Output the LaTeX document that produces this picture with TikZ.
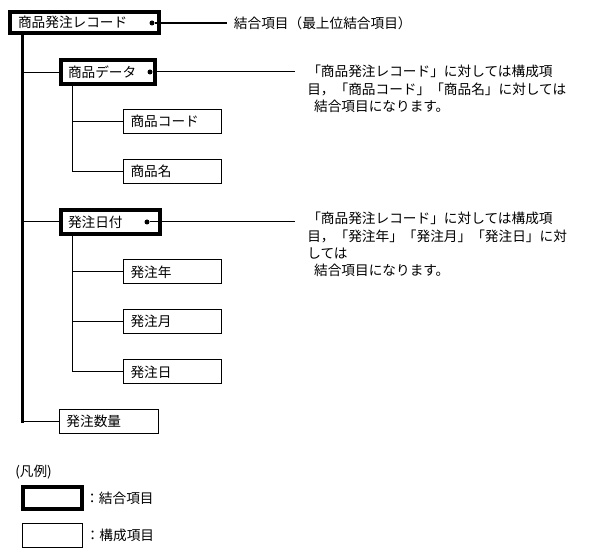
\documentclass[tikz,border=0pt]{standalone}
\usepackage{fontspec}
\newfontfamily\jpfont{Noto Sans CJK JP}
\usepackage{tikz}
\usetikzlibrary{positioning}
\tikzset{
  blk/.style={rectangle, draw=black, align=left, outer sep=0pt, inner ysep=0pt, inner xsep=5.25pt, font=\jpfont\fontsize{10.25pt}{13pt}\selectfont},
  ketsu/.style={blk, line width=3pt, minimum height=18pt},
  kosei/.style={blk, line width=0.75pt, minimum height=18pt},
  leaf/.style={kosei, text width=63pt},
  dot/.style={circle, fill=black, inner sep=0pt, minimum size=3.75pt},
  note/.style={align=left, inner xsep=9pt, inner ysep=0pt, font=\jpfont\fontsize{10.25pt}{13pt}\selectfont},
  lbl/.style={inner sep=0pt, font=\jpfont\fontsize{10.25pt}{13pt}\selectfont},
  link/.style={line width=0.75pt},
  trunk/.style={line width=2.25pt, line cap=rect},
}
\begin{document}
\begin{tikzpicture}[x=0.75pt, y=-0.75pt]
  \useasboundingbox (0,0) rectangle (590,552);
  % tree
  \node[ketsu, minimum height=15.75pt, inner xsep=6pt, text width=99.75pt] (rec) at (84.5,22.5) {商品発注レコード};
  \node[ketsu, text width=60pt] (data) at (108,72.5) {商品データ};
  \node[leaf] (code) at (172.5,121.5) {商品コード};
  \node[leaf] (name) at (172.5,171.5) {商品名};
  \node[ketsu, text width=63.75pt] (date) at (110.5,222) {発注日付};
  \node[leaf] (year) at (172.5,272) {発注年};
  \node[leaf] (month) at (172.5,321.5) {発注月};
  \node[leaf] (day) at (172.5,372) {発注日};
  \node[kosei, text width=63.75pt] (qty) at (109,421.5) {発注数量};

  \coordinate (tk) at ([xshift=9pt]rec.south west);
  \draw[trunk] (tk) -- (tk |- qty.west);
  \foreach \n in {data,date,qty}
    \draw[link] (tk |- \n.west) -- (\n.west);
  \coordinate (sd) at ([xshift=8.25pt]data.south west);
  \draw[link] (sd) |- (name.west);
  \draw[link] (sd |- code.west) -- (code.west);
  \coordinate (se) at ([xshift=8.25pt]date.south west);
  \draw[link] (se) |- (day.west);
  \foreach \n in {year,month}
    \draw[link] (se |- \n.west) -- (\n.west);

  % notes
  \node[dot] (d1) at (152,23) {};
  \node[dot] (d2) at (150,72) {};
  \node[dot] (d3) at (147,222) {};
  \node[note, anchor=west, inner xsep=5pt] (n1) at (227,23) {結合項目（最上位結合項目）};
  \node[note, anchor=north west] (n2) at (295,65) {「商品発注レコード」に対しては構成項\\目，「商品コード」「商品名」に対しては\\\hspace*{0.5em}結合項目になります。};
  \node[note, anchor=north west] (n3) at (295,212) {「商品発注レコード」に対しては構成項\\目，「発注年」「発注月」「発注日」に対\\しては\\\hspace*{0.5em}結合項目になります。};
  \draw[link, line width=1.5pt] (d1) -- (n1.west);
  \draw[link] (d2) -- (d2 -| n2.west);
  \draw[link] (d3) -- (d3 -| n3.west);

  % legend
  \node[lbl, anchor=west] (lgd) at (15,472) {(凡例)};
  \node[ketsu, minimum width=44.25pt, minimum height=16.5pt] (lk) at (52.5,498) {};
  \node[kosei, minimum width=45pt, minimum height=18pt] (lc) at (52.5,535.5) {};
  \node[lbl, anchor=west] (lkt) at ([xshift=2.25pt]lk.east) {：結合項目};
  \node[lbl, anchor=west] (lct) at ([xshift=2.25pt]lc.east) {：構成項目};
\end{tikzpicture}
\end{document}
